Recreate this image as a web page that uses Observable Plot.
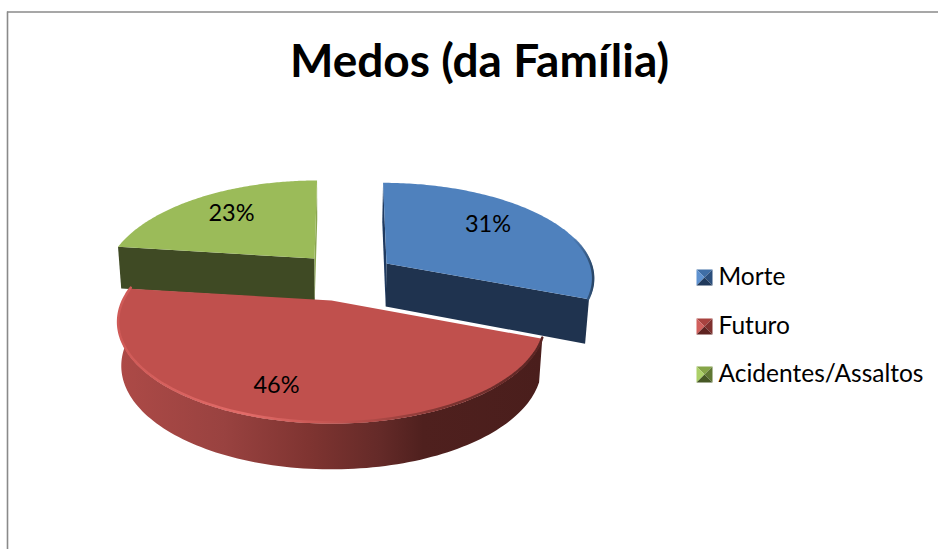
<!DOCTYPE html>
<html>
<head>
<meta charset="utf-8">
<script src="https://cdn.jsdelivr.net/npm/d3@7"></script>
<script src="https://cdn.jsdelivr.net/npm/@observablehq/plot@0.6"></script>
<style>html,body{margin:0;padding:0;background:#fff;overflow:hidden}svg{display:block}</style>
</head>
<body>
<div id="chart"></div>
<script>
const title = "Medos (da Família)";
const categories = ["Morte", "Futuro", "Acidentes/Assaltos"];
const shares = [31, 46, 23];

// Colours and view of each slice (layout, not data)
const tops = ["#4f81bd", "#c0504d", "#9bbb59"];
const cutWalls = ["#1f334f", "#4a1e1c", "#3f4a24"];
const edgeWalls = ["#1f3a60", "#4a1e1c", "#8aa650"];
const swatchShades = [
  ["#5f92d0", "#3f6ea6", "#2c4f7c", "#203a5c"],
  ["#d1605d", "#a8423f", "#7f312f", "#5e2321"],
  ["#acd068", "#86a548", "#5f7733", "#465825"]
];
const views = [
  {ax: 386, ay: 263, R: 205, Rb: 92,   k: 0.14,  X0: 28,  depth: 43, lr: 0.63, dx: 1,  dy: -9},
  {ax: 331, ay: 300, R: 208, Rb: 95.5, k: 0.224, X0: 0,   depth: 42, lr: 0.76, dx: -8, dy: 0},
  {ax: 314, ay: 258, R: 204, Rb: 95.5, k: 0.224, X0: -14, depth: 42, lr: 0.70, dx: 0,  dy: -1}
];
const vanishX = 330;

// Turn shares into angles, clockwise from the top of the pie
const total = d3.sum(shares);
let acc = 0;
const spans = shares.map(v => { const a0 = acc / total * 2 * Math.PI; acc += v; return [a0, acc / total * 2 * Math.PI]; });

function topPoint(i, a, r = 1) {
  const p = views[i], u = r * Math.sin(a), v = r * Math.cos(a), s = 1 / (1 + p.k * v);
  return {x: p.ax + (p.X0 + p.R * u) * s - p.X0, y: p.ay - p.Rb * v * s, v};
}
function lower(i, q) {
  const p = views[i];
  return {x: vanishX + (q.x - vanishX) * 0.985, y: q.y + p.depth * (1 - 0.09 * q.v)};
}
function arc(i, a0, a1) { return d3.range(0, 121).map(t => topPoint(i, a0 + (a1 - a0) * t / 120)); }
const centre = i => ({...topPoint(i, 0, 0), v: 0});

const poly = (pts, fill) => Plot.line(pts, {x: "x", y: "y", fill, stroke: "none", curve: "linear-closed"});

function sliceMarks(i) {
  const [a0, a1] = spans[i], rim = arc(i, a0, a1), c = centre(i);
  const cut = a => { const q = topPoint(i, a); return [c, q, lower(i, q), lower(i, c)]; };
  const out = [];
  if (i === 1) {
    out.push(poly([...rim, ...rim.map(q => lower(i, q)).reverse()], "url(#redWall)"));
  } else {
    out.push(poly(i === 0 ? cut(a1) : cut(a0), cutWalls[i]));
    out.push(poly(i === 0 ? cut(a0) : cut(a1), edgeWalls[i]));
  }
  out.push(poly([c, ...rim], tops[i]));
  return out;
}

function gradient(defs, id, x1, x2, stops) {
  const g = defs.append("linearGradient").attr("id", id).attr("gradientUnits", "userSpaceOnUse")
    .attr("x1", x1).attr("x2", x2).attr("y1", 0).attr("y2", 0);
  stops.forEach(([o, c, op]) => g.append("stop").attr("offset", o).attr("stop-color", c).attr("stop-opacity", op ?? 1));
}
const defsMark = () => {
  const defs = d3.create("svg:defs");
  gradient(defs, "redWall", 118, 541, [[0, "#ad4a47"], [0.25, "#994240"], [0.45, "#7f3431"], [0.62, "#642a28"], [0.72, "#4f201e"], [1, "#4a1e1c"]]);
  gradient(defs, "redRim", 118, 541, [[0, "#cf5a57"], [0.3, "#e26b68"], [0.45, "#cc5a57"], [0.6, "#b04a47"], [0.78, "#7d3431"], [1, "#5a2523"]]);
  gradient(defs, "blueRim", 560, 592, [[0, "#4f81bd", 0], [0.6, "#3f689a", 0.7], [1, "#2a4768"]]);
  return defs.node();
};

// Legend
const legendX = [696, 712], legendRows = [277, 326, 374], half = 8;
const swatchMarks = categories.flatMap((_, i) => {
  const [l, r] = legendX, y = legendRows[i], t = y - half, b = y + half, mx = (l + r) / 2;
  const P = (x, y) => ({x, y});
  const m = P(mx, y), s = swatchShades[i];
  return [
    poly([P(l, t), P(r, t), m], s[1]),
    poly([P(l, t), P(l, b), m], s[0]),
    poly([P(r, t), P(r, b), m], s[2]),
    poly([P(l, b), P(r, b), m], s[3])
  ];
});

const font = "Lato, 'Open Sans', sans-serif";
const labelRows = shares.map((v, i) => {
  const mid = (spans[i][0] + spans[i][1]) / 2, q = topPoint(i, mid, views[i].lr);
  return {x: q.x + views[i].dx, y: q.y + views[i].dy + 1, t: v + "%"};
});
const redRim = arc(1, spans[1][0], spans[1][1]);
const blueEdge = arc(0, spans[0][0] + 1.3, spans[0][1]);

document.getElementById("chart").append(Plot.plot({
  width: 938, height: 549, margin: 0,
  x: {domain: [0, 938], axis: null},
  y: {domain: [549, 0], axis: null},
  style: {background: "#fff"},
  marks: [
    defsMark,
    Plot.ruleX([7], {y1: 11.5, y2: 549, stroke: "#8a8a8a", strokeWidth: 1.6}),
    Plot.ruleY([11.5], {x1: 7, x2: 938, stroke: "#8a8a8a", strokeWidth: 1.6}),
    ...sliceMarks(2),
    ...sliceMarks(0),
    Plot.line(blueEdge, {x: d => d.x - 1, y: d => d.y, stroke: "url(#blueRim)", strokeWidth: 2.5}),
    ...sliceMarks(1),
    Plot.line(redRim, {x: "x", y: d => d.y - 1.2, stroke: "url(#redRim)", strokeWidth: 2.5}),
    Plot.text(labelRows, {x: "x", y: "y", text: "t", fontSize: 23.5, fill: "#000", fontFamily: font}),
    Plot.text([title], {x: [479], y: [62], text: d => d, fontSize: 46, fontWeight: 700, fill: "#000", fontFamily: font}),
    ...swatchMarks,
    Plot.text(categories, {x: [718, 718, 718], y: legendRows, text: d => d, textAnchor: "start", fontSize: 24.5, fill: "#000", fontFamily: font})
  ]
}));
</script>
</body>
</html>
